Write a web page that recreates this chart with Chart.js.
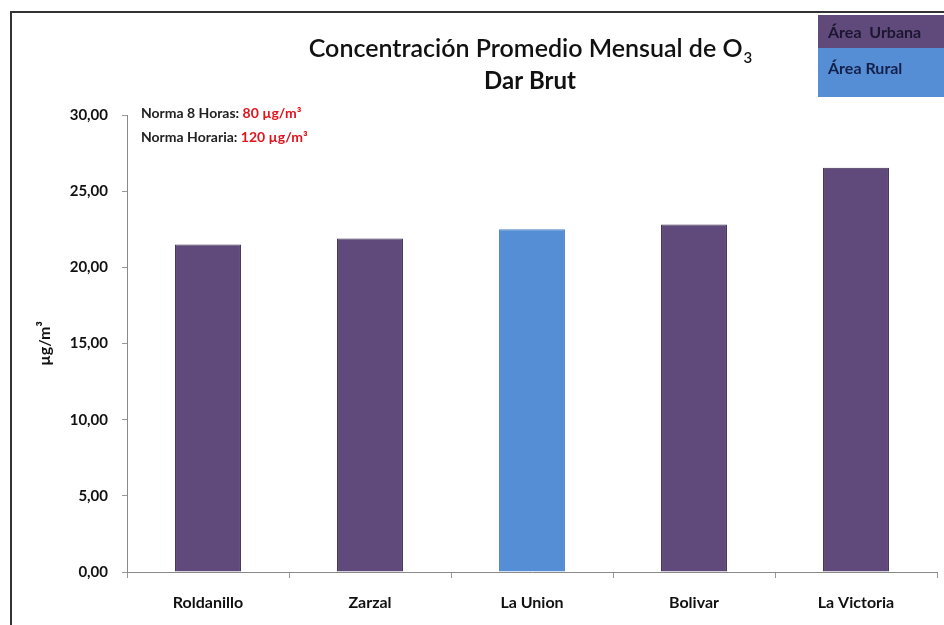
<!DOCTYPE html>
<html lang="es">
<head>
<meta charset="utf-8">
<title>Concentración Promedio Mensual de O3 - Dar Brut</title>
<script src="https://cdn.jsdelivr.net/npm/chart.js@4/dist/chart.umd.min.js"></script>
<style>
  html, body { margin: 0; padding: 0; background: #fff; }
  #wrap { width: 944px; height: 625px; position: relative; }
</style>
</head>
<body>
<div id="wrap"><canvas id="o3-chart" width="944" height="625"></canvas></div>
<script>
// Data
const stations = ["Roldanillo", "Zarzal", "La Union", "Bolivar", "La Victoria"];
const o3Values = [21.5, 21.9, 22.5, 22.82, 26.53];
const areaType = ["urbana", "urbana", "rural", "urbana", "urbana"];
const yTicks   = [0, 5, 10, 15, 20, 25, 30];

const COLOR_URBAN = "#604a7b";
const COLOR_RURAL = "#558ed5";
const FONT = "Lato, 'Open Sans', sans-serif";

// Comma decimals like the original spreadsheet (es-CO)
const fmt = v => v.toFixed(2).replace(".", ",");

/**
 * Draws everything that is not an axis or a bar:
 * frame, two-line title with subscript, norm notes and the area legend.
 */
const decorPlugin = {
  id: "decor",
  afterDraw(chart) {
    const ctx = chart.ctx;
    ctx.save();

    // outer frame (only left/top visible in the crop)
    ctx.strokeStyle = "#333";
    ctx.lineWidth = 2;
    ctx.beginPath();
    ctx.moveTo(11, 625);
    ctx.lineTo(11, 12);
    ctx.lineTo(944, 12);
    ctx.stroke();

    // title line 1 with O3 subscript
    ctx.fillStyle = "#111";
    ctx.textBaseline = "alphabetic";
    const main = "Concentración Promedio Mensual de O";
    ctx.font = "600 25px " + FONT;
    const wMain = ctx.measureText(main).width;
    ctx.font = "600 15px " + FONT;
    const wSub = ctx.measureText("3").width;
    const x0 = 530 - (wMain + wSub) / 2;
    ctx.font = "600 25px " + FONT;
    ctx.textAlign = "left";
    ctx.fillText(main, x0, 57);
    ctx.font = "600 15px " + FONT;
    ctx.fillText("3", x0 + wMain + 1, 63);

    // title line 2
    ctx.font = "bold 24px " + FONT;
    ctx.textAlign = "center";
    ctx.fillText("Dar Brut", 530, 89);

    // norm notes
    const notes = [["Norma 8 Horas: ", "80 µg/m³", 118], ["Norma Horaria: ", "120 µg/m³", 142]];
    ctx.textAlign = "left";
    ctx.font = "bold 14px " + FONT;
    notes.forEach(([label, val, y]) => {
      ctx.fillStyle = "#222";
      ctx.fillText(label, 141, y);
      const w = ctx.measureText(label).width;
      ctx.fillStyle = "#e0141e";
      ctx.fillText(val, 141 + w, y);
    });

    // area legend box (top right)
    ctx.fillStyle = COLOR_URBAN;
    ctx.fillRect(818, 15, 126, 33);
    ctx.fillStyle = COLOR_RURAL;
    ctx.fillRect(818, 48, 126, 49);
    ctx.font = "bold 16px " + FONT;
    ctx.fillStyle = "#1c1630";
    ctx.fillText("Área  Urbana", 828, 38);
    ctx.fillStyle = "#14204a";
    ctx.fillText("Área Rural", 828, 74);

    ctx.restore();
  }
};

const ctx = document.getElementById("o3-chart").getContext("2d");

new Chart(ctx, {
  type: "bar",
  data: {
    labels: stations,
    datasets: [{
      label: "O3",
      data: o3Values,
      backgroundColor: areaType.map(a => a === "rural" ? COLOR_RURAL : COLOR_URBAN),
      borderColor: areaType.map(a => a === "rural" ? "#4c82c6" : "#3a2c4e"),
      borderWidth: 1,
      categoryPercentage: 1,
      barPercentage: 0.407
    }]
  },
  options: {
    responsive: false,
    animation: false,
    layout: { padding: { top: 115, right: 7, left: 0, bottom: 0 } },
    plugins: {
      legend: { display: false },
      tooltip: { enabled: false }
    },
    scales: {
      x: {
        grid: { display: true, drawOnChartArea: false, drawTicks: true, tickLength: 6, offset: true, color: "#999" },
        border: { color: "#8a8a8a", width: 1 },
        ticks: { color: "#111", font: { family: FONT, size: 16, weight: "bold" }, padding: 15 },
        afterFit: scale => { scale.height = 53; }
      },
      y: {
        min: 0,
        max: 30,
        afterBuildTicks: scale => { scale.ticks = yTicks.map(v => ({ value: v })); },
        grid: { display: true, drawOnChartArea: false, drawTicks: true, tickLength: 5, color: "#999" },
        border: { color: "#8a8a8a", width: 1 },
        ticks: { color: "#111", font: { family: FONT, size: 15, weight: "bold" }, padding: 14, callback: v => fmt(v) },
        title: { display: true, text: "µg/m³", color: "#111", font: { family: FONT, size: 16, weight: "bold" }, padding: { top: 35, bottom: 0 } },
        afterFit: scale => { scale.width = 127; }
      }
    }
  },
  plugins: [decorPlugin]
});
</script>
</body>
</html>
